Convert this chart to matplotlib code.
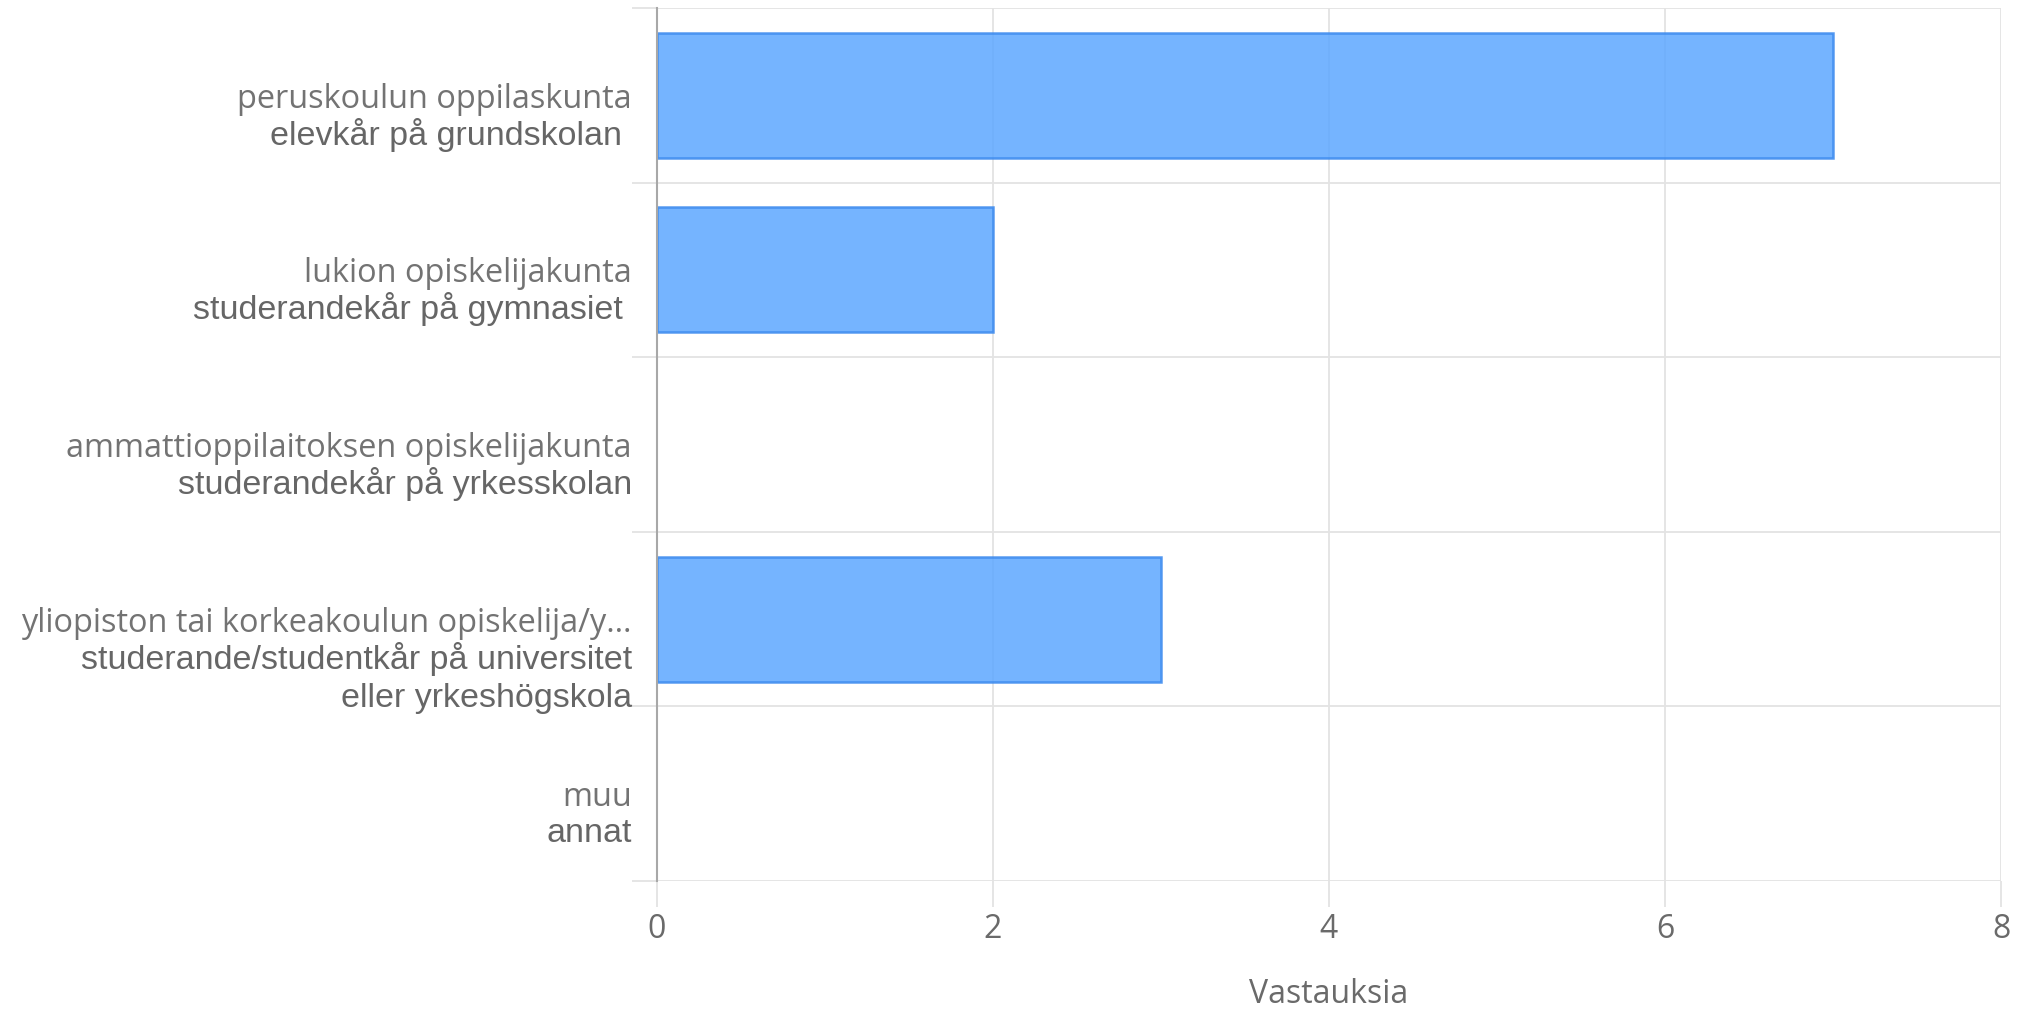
import matplotlib
matplotlib.use("Agg")
import matplotlib.pyplot as plt
import numpy as np

# ---------------------------------------------------------------------------
# Data
# ---------------------------------------------------------------------------
labels_fi = [
    "peruskoulun oppilaskunta",
    "lukion opiskelijakunta",
    "ammattioppilaitoksen opiskelijakunta",
    "yliopiston tai korkeakoulun opiskelija/y…",
    "muu",
]
labels_sv = [
    ["elevkår på grundskolan "],
    ["studerandekår på gymnasiet "],
    ["studerandekår på yrkesskolan"],
    ["studerande/studentkår på universitet", "eller yrkeshögskola"],
    ["annat"],
]
answers = [7, 2, 0, 3, 0]
x_ticks = [0, 2, 4, 6, 8]
x_title = "Vastauksia"

# ---------------------------------------------------------------------------
# Style
# ---------------------------------------------------------------------------
BAR_FILL = (93 / 255, 167 / 255, 1.0)
BAR_EDGE = "#3a89ee"
GRID = "#e3e3e3"
AXIS = "#a8a8a8"
C_FI = "#737373"
C_SV = "#666666"
C_TICK = "#6a6a6a"
SANS_FI = ["Open Sans", "DejaVu Sans"]
SANS_SV = ["Liberation Sans", "DejaVu Sans"]

fig = plt.figure(figsize=(20.28, 10.14), dpi=100)
ax = fig.add_axes([657 / 2028, 1 - 881 / 1014, (2001 - 657) / 2028, (881 - 8) / 1014])

y = np.arange(len(answers))
# empty categories get no outline (otherwise a thin line shows at x=0)
edge_w = [1.8 if v > 0 else 0 for v in answers]
ax.barh(y, answers, height=0.715, color=BAR_FILL, alpha=0.85,
        edgecolor=BAR_EDGE, linewidth=edge_w, zorder=3)

ax.set_xlim(0, 8)
ax.set_ylim(len(answers) - 0.5, -0.5)

# x axis: grid lines run down past the axis as ticks
ax.set_xticks(x_ticks)
ax.set_xticklabels([str(t) for t in x_ticks], family=SANS_FI, fontsize=23, color=C_TICK)
ax.tick_params(axis="x", length=19, width=1.3, color=GRID, pad=4)
ax.xaxis.grid(True, color=GRID, linewidth=1.3, zorder=0)
ax.set_xlabel(x_title, family=SANS_FI, fontsize=23, color=C_TICK, labelpad=23)

# y axis: category boundaries as minor ticks / grid
ax.set_yticks(y)
ax.set_yticklabels(labels_fi, family=SANS_FI, fontsize=23.4, color=C_FI)
ax.tick_params(axis="y", which="major", length=0, pad=18)
ax.set_yticks(np.arange(-0.5, len(answers)), minor=True)
ax.tick_params(axis="y", which="minor", length=18, width=1.3, color=GRID)
ax.yaxis.grid(True, which="minor", color=GRID, linewidth=1.3, zorder=0)
ax.set_axisbelow(True)

for i, lines in enumerate(labels_sv):
    for j, line in enumerate(lines):
        ax.annotate(line, xy=(0, i), xycoords=("axes fraction", "data"),
                    xytext=(-18, -28.5 * (j + 1)), textcoords="offset points",
                    ha="right", va="center", family=SANS_SV, fontsize=24.5,
                    color=C_SV)

for side in ["top", "right", "bottom"]:
    ax.spines[side].set_visible(False)
ax.spines["left"].set_color(AXIS)
ax.spines["left"].set_linewidth(1.5)
ax.spines["left"].set_zorder(4)

fig.savefig("out.png", dpi=100, facecolor="white")
